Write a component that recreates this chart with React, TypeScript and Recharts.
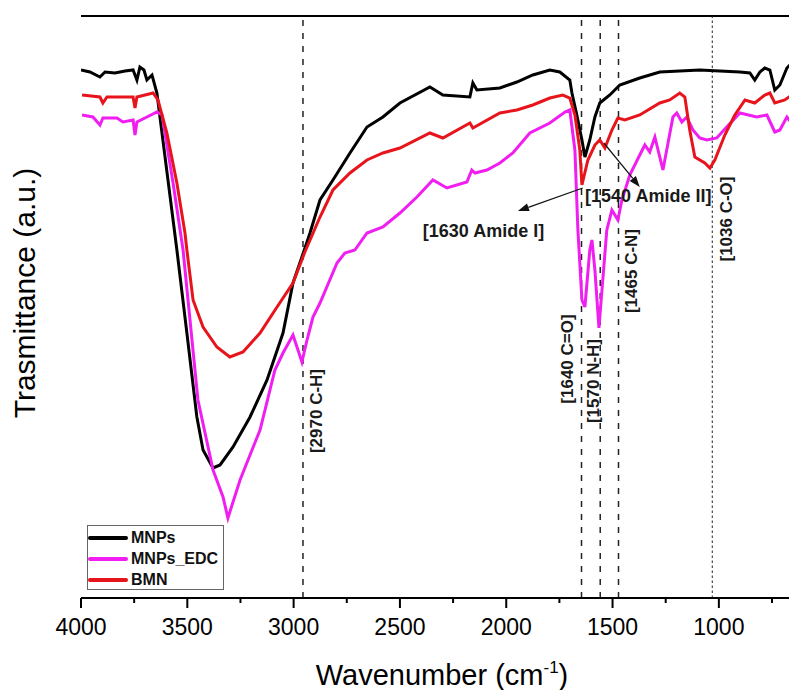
import React from 'react';
import { LineChart, Line, XAxis, YAxis, ReferenceLine, ReferenceDot, Legend } from 'recharts';

// ---- data (wavenumber in cm-1, transmittance in arbitrary units) ----
const mnpsWavenumber = [4000,3958,3911,3887,3840,3793,3755,3737,3723,3704,3690,3666,3643,3549,3502,3455,3426,3379,3346,3285,3205,3125,3050,3003,2961,2923,2876,2815,2735,2655,2580,2500,2359,2298,2171,2157,2138,2030,1950,1875,1795,1748,1701,1691,1668,1644,1630,1607,1583,1560,1513,1466,1372,1278,1090,901,854,831,807,784,760,737,713,680,666,652,633];
const mnpsTransmittance = [528,526,521,526,525,527,528,518,531,528,518,523,505,348,265,181,148,130,133,151,181,218,265,315,341,365,398,418,445,471,481,495,511,503,501,515,508,510,516,523,528,526,518,505,483,458,441,458,481,495,503,513,520,526,528,526,525,518,526,530,528,508,513,530,533,523,513];

const edcWavenumber = [3995,3944,3911,3897,3831,3803,3755,3746,3737,3690,3643,3619,3567,3520,3450,3379,3332,3309,3252,3158,3088,3050,3003,2961,2937,2909,2876,2796,2759,2712,2655,2580,2500,2420,2345,2279,2185,2162,2147,2091,2030,1969,1889,1795,1724,1701,1677,1663,1644,1630,1607,1597,1583,1564,1546,1527,1503,1475,1456,1419,1372,1348,1325,1301,1263,1216,1198,1174,1151,1122,1090,1057,1010,963,901,822,774,737,713,680,652,633];
const edcTransmittance = [483,481,473,480,480,476,478,463,476,481,486,483,415,348,198,128,101,80,118,168,228,245,263,236,258,281,295,335,345,348,365,371,385,401,418,410,416,428,425,428,435,445,465,475,486,488,448,368,298,291,348,358,328,270,318,368,388,378,398,423,443,453,446,461,428,481,485,476,481,468,460,458,460,471,485,481,483,466,468,481,473,448];

const bmnWavenumber = [3995,3911,3897,3878,3755,3746,3737,3661,3638,3596,3549,3511,3502,3473,3426,3361,3300,3238,3158,3078,3003,2947,2876,2815,2735,2655,2580,2500,2359,2298,2171,2157,2030,1950,1875,1795,1734,1701,1677,1654,1644,1616,1583,1560,1536,1503,1475,1442,1372,1278,1231,1184,1160,1137,1113,1066,1042,1019,972,925,877,831,784,760,737,690,657,633];
const bmnTransmittance = [503,501,495,501,501,490,501,505,498,465,415,365,348,298,271,251,241,246,265,291,315,346,381,408,425,438,445,450,465,460,475,470,485,488,493,500,503,500,483,448,413,438,453,458,450,468,480,478,483,495,498,505,501,468,441,435,430,438,463,483,498,495,503,505,495,498,503,440];

const majorTicks = [4000, 3500, 3000, 2500, 2000, 1500, 1000];
const minorTicks = [3750, 3250, 2750, 2250, 1750, 1250, 750];

const seriesNames = ['MNPs', 'MNPs_EDC', 'BMN'];
const seriesColors = ['#000000', '#f01ef0', '#e8141c'];

// peak marker lines (as drawn)
const peakLinePositions = [2956, 1646, 1558, 1472, 1031];
const peakLineDotted = [false, false, false, false, true];

// rotated peak labels: text, centre wavenumber, centre transmittance
const peakLabelTexts = ['[2970 C-H]', '[1640 C=O]', '[1570 N-H]', '[1465 C-N]', '[1036 C-O]'];
const peakLabelW = [2893, 1712, 1590, 1412, 965];
const peakLabelT = [187, 239, 217, 327, 379];

// horizontal amide labels
const amideTexts = ['[1540 Amide II]', '[1630 Amide I]'];
const amideW = [1332, 2107];
const amideT = [396, 361];

// arrows: from (w,t) to (w,t)
const arrowFromW = [1640, 1541];
const arrowFromT = [410, 455];
const arrowToW = [1945, 1372];
const arrowToT = [387, 411];

const zip = (w: number[], t: number[]) => w.map((x, i) => ({ w: x, t: t[i] }));
const mnpsData = zip(mnpsWavenumber, mnpsTransmittance);
const edcData = zip(edcWavenumber, edcTransmittance);
const bmnData = zip(bmnWavenumber, bmnTransmittance);
const seriesData = [mnpsData, edcData, bmnData];

const FONT = '"Liberation Sans", Arial, Helvetica, sans-serif';
const allTicks = [...majorTicks, ...minorTicks].sort((a, b) => b - a);

const AxisTick = (props: any) => {
  const { x, y, payload } = props;
  const major = majorTicks.includes(payload.value);
  return (
    <g>
      <line x1={x} y1={y} x2={x} y2={y + (major ? 10 : 5)} stroke="#000" strokeWidth={2} />
      {major && (
        <text x={x} y={y + 37} textAnchor="middle" fontSize={23} fontFamily={FONT} fill="#000">
          {payload.value}
        </text>
      )}
    </g>
  );
};

const makeRotLabel = (text: string) => (props: any) => {
  const { cx, cy } = props;
  return (
    <text
      x={cx}
      y={cy}
      transform={`rotate(-90 ${cx} ${cy})`}
      textAnchor="middle"
      dominantBaseline="central"
      fontSize={17}
      fontWeight="bold"
      fontFamily={FONT}
      fill="#1a1a1a"
    >
      {text}
    </text>
  );
};

const makeHLabel = (text: string) => (props: any) => {
  const { cx, cy } = props;
  return (
    <text x={cx} y={cy} textAnchor="middle" fontSize={18} fontWeight="bold" fontFamily={FONT} fill="#1a1a1a">
      {text}
    </text>
  );
};

const ArrowShape = (props: any) => {
  const { x1, y1, x2, y2 } = props;
  const ang = Math.atan2(y2 - y1, x2 - x1);
  const len = 11;
  const half = 4;
  const bx = x2 - len * Math.cos(ang);
  const by = y2 - len * Math.sin(ang);
  const px = -Math.sin(ang) * half;
  const py = Math.cos(ang) * half;
  return (
    <g>
      <line x1={x1} y1={y1} x2={bx} y2={by} stroke="#111" strokeWidth={1.2} />
      <polygon points={`${x2},${y2} ${bx + px},${by + py} ${bx - px},${by - py}`} fill="#111" />
    </g>
  );
};

const LegendBox = () => (
  <div
    style={{
      width: 137,
      height: 65,
      boxSizing: 'border-box',
      border: '1px solid #666',
      background: '#fff',
      paddingTop: 1,
    }}
  >
    {seriesNames.map((n, i) => (
      <div key={n} style={{ display: 'flex', alignItems: 'center', height: 21 }}>
        <div style={{ width: 40, height: 4, background: seriesColors[i], borderRadius: 2 }} />
        <span
          style={{
            marginLeft: 3,
            fontFamily: FONT,
            fontWeight: 'bold',
            fontSize: 16,
            color: '#111',
            lineHeight: '16px',
          }}
        >
          {n}
        </span>
      </div>
    ))}
  </div>
);

export default function App() {
  return (
    <div style={{ position: 'relative', width: 789, height: 682, overflow: 'hidden', background: '#fff' }}>
      <LineChart width={789} height={682} margin={{ top: 8, right: 0, bottom: 32, left: 73 }}>
        <XAxis
          type="number"
          dataKey="w"
          domain={[632.5, 4000]}
          reversed
          ticks={allTicks}
          interval={0}
          tick={<AxisTick />}
          tickLine={false}
          tickSize={0}
          tickMargin={0}
          height={60}
          axisLine={{ stroke: '#000', strokeWidth: 2 }}
          allowDataOverflow
        />
        <YAxis
          type="number"
          domain={[0, 582]}
          width={0}
          tick={false}
          tickLine={false}
          axisLine={{ stroke: '#000', strokeWidth: 2 }}
          allowDataOverflow
        />
        <ReferenceLine y={582} stroke="#000" strokeWidth={2} />
        {peakLinePositions.map((p, i) => (
          <ReferenceLine
            key={'pl' + i}
            x={p}
            stroke="#222"
            strokeWidth={peakLineDotted[i] ? 1 : 1.5}
            strokeDasharray={peakLineDotted[i] ? '2.5 2.5' : '6 7'}
          />
        ))}
        {seriesNames.map((n, i) => (
          <Line
            key={n}
            data={seriesData[i]}
            dataKey="t"
            name={n}
            type="linear"
            stroke={seriesColors[i]}
            strokeWidth={3}
            dot={false}
            activeDot={false}
            isAnimationActive={false}
          />
        ))}
        {peakLabelTexts.map((t, i) => (
          <ReferenceDot
            key={'lab' + i}
            x={peakLabelW[i]}
            y={peakLabelT[i]}
            r={0}
            shape={makeRotLabel(t)}
          />
        ))}
        {amideTexts.map((t, i) => (
          <ReferenceDot key={'am' + i} x={amideW[i]} y={amideT[i]} r={0} shape={makeHLabel(t)} />
        ))}
        {arrowFromW.map((w, i) => (
          <ReferenceLine
            key={'ar' + i}
            segment={[
              { x: w, y: arrowFromT[i] },
              { x: arrowToW[i], y: arrowToT[i] },
            ]}
            shape={ArrowShape}
          />
        ))}
        <Legend
          layout="vertical"
          align="center"
          verticalAlign="middle"
          wrapperStyle={{ position: 'absolute', left: 79, top: 517, width: 137, height: 65 }}
          content={() => <LegendBox />}
        />
      </LineChart>
      <svg
        width={789}
        height={682}
        style={{ position: 'absolute', left: 0, top: 0, pointerEvents: 'none' }}
      >
        <text
          x={27}
          y={285}
          transform="rotate(-90 27 285)"
          textAnchor="middle"
          fontSize={30}
          fontFamily={FONT}
          fill="#000"
        >
          Trasmittance (a.u.)
        </text>
        <text x={434} y={677} textAnchor="middle" fontSize={29} fontFamily={FONT} fill="#000">
          Wavenumber (cm
          <tspan fontSize={17} dy={-12}>-1</tspan>
          <tspan dy={12}>)</tspan>
        </text>
      </svg>
    </div>
  );
}
